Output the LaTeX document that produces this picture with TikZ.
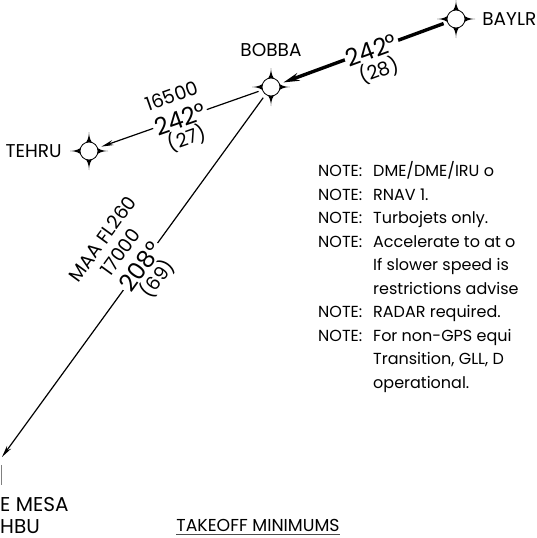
\documentclass[tikz,border=0pt]{standalone}
\usepackage{fontspec}
\setmainfont{Poppins}
\usetikzlibrary{arrows.meta,positioning}
\begin{document}
\begin{tikzpicture}[x=1pt,y=-1pt,
  wpt/.style={circle,minimum size=26pt,inner sep=0pt},
  fixname/.style={font=\fontsize{18.5}{18.5}\selectfont,inner sep=0pt},
  crs/.style={font=\fontsize{24}{24}\selectfont,fill=white,inner sep=2pt,sloped},
  leg/.style={font=\fontsize{19}{19}\selectfont,inner sep=2pt,text height=14pt,text depth=4pt},
  route/.style={line width=1.2pt,-{Stealth[length=12pt,width=5pt]}},
  heavy/.style={line width=3.4pt,-{Stealth[length=16pt,width=8pt]}},
  fixstar/.pic={
    \fill (0,-19) .. controls (0,-8) and (8,0) .. (19,0)
      .. controls (8,0) and (0,8) .. (0,19)
      .. controls (0,8) and (-8,0) .. (-19,0)
      .. controls (-8,0) and (0,-8) .. (0,-19) -- cycle;
    \filldraw[fill=white,line width=0.8pt] (0,0) circle (9);
  }]
\useasboundingbox (0,0) rectangle (537,538);
\clip (0,0) rectangle (537,538);

% fixes
\node[wpt] (BAYLR) at (456,19) {};
\node[wpt] (BOBBA) at (271,87) {};
\node[wpt] (TEHRU) at (89,151) {};
\coordinate (MESA) at (2,457);
\pic at (BAYLR) {fixstar};
\pic at (BOBBA) {fixstar};
\pic at (TEHRU) {fixstar};
\node[fixname,right=13pt of BAYLR] {BAYLR};
\node[fixname,above=17pt of BOBBA] {BOBBA};
\node[fixname,left=14pt of TEHRU] {TEHRU};

% routes
\draw[heavy] (BAYLR) -- node[crs,pos=0.45] (crsA) {242°} (BOBBA);
\node[leg,rotate=20.2,below=0pt of crsA] {(28)};
\draw[route] (BOBBA) -- node[crs] (crsB) {242°} (TEHRU);
\node[leg,rotate=19.4,above=0pt of crsB] {16500};
\node[leg,rotate=19.4,below=0pt of crsB] {(27)};
\draw[route] (BOBBA) -- node[crs,pos=0.47] (crsC) {208°} (MESA);
\node[leg,rotate=54,above=0pt of crsC] (altC) {17000};
\node[leg,rotate=54,above=0pt of altC] {MAA FL260};
\node[leg,rotate=54,below=0pt of crsC] {(69)};

% navaid at the edge
\draw[black!50,line width=0.8pt] (1,465) -- (1,485);
\node[font=\fontsize{20}{22}\selectfont,anchor=north west,inner sep=0pt,align=left] at (0,497) {E MESA\\HBU};

% notes
\node[anchor=north west,inner sep=0pt,font=\fontsize{16}{23.5}\selectfont] at (318,160) {%
  \begin{tabular}{@{}p{55pt}@{}l@{}}
  NOTE: & DME/DME/IRU o\\
  NOTE: & RNAV 1.\\
  NOTE: & Turbojets only.\\
  NOTE: & Accelerate to at o\\
        & If slower speed is\\
        & restrictions advise\\
  NOTE: & RADAR required.\\
  NOTE: & For non-GPS equi\\
        & Transition, GLL, D\\
        & operational.
  \end{tabular}};

\node[font=\fontsize{17.3}{20}\selectfont,inner sep=0pt] (tkoff) at (258,525) {TAKEOFF MINIMUMS};
\draw[black!70,line width=0.8pt] ([yshift=-3pt]tkoff.south west) -- ([yshift=-3pt]tkoff.south east);
\end{tikzpicture}
\end{document}
